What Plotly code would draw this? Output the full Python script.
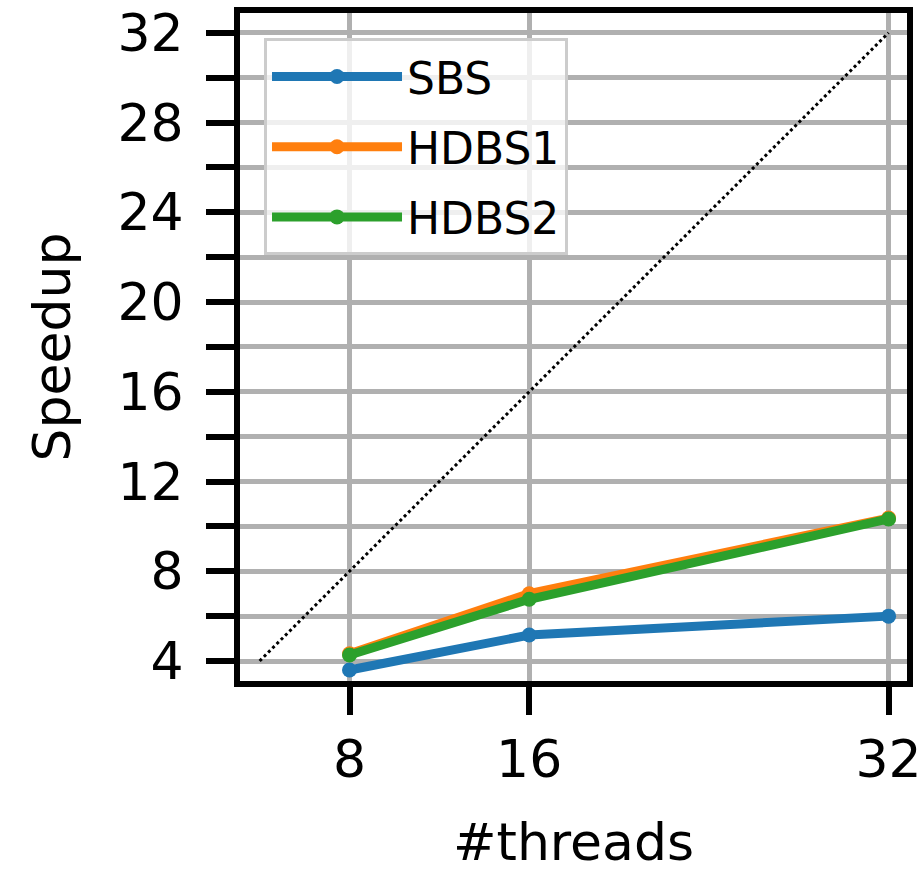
import plotly.graph_objects as go

threads = [8, 16, 32]
sbs = [3.6, 5.16, 6.0]
hdbs1 = [4.32, 7.0, 10.37]
hdbs2 = [4.27, 6.75, 10.33]
ideal_x = [4, 32]
ideal_y = [4, 32]
x_ticks = [8, 16, 32]
y_ticks = [4, 8, 12, 16, 20, 24, 28, 32]

FONT = "DejaVu Sans"
fig = go.Figure()
fig.add_trace(go.Scatter(x=ideal_x, y=ideal_y, mode="lines",
                         line=dict(color="black", width=3, dash="dot"),
                         showlegend=False, hoverinfo="skip"))
series = [("SBS", sbs, "#1f77b4"), ("HDBS1", hdbs1, "#ff7f0e"), ("HDBS2", hdbs2, "#2ca02c")]
for name, vals, col in series:
    fig.add_trace(go.Scatter(x=threads, y=vals, mode="lines+markers", name=name,
                             legendgroup=name,
                             line=dict(color=col, width=9),
                             marker=dict(color=col, size=15)))

axis_common = dict(showline=True, linecolor="black", linewidth=6, mirror=True,
                   ticks="outside", ticklen=28, tickwidth=6, tickcolor="black",
                   showgrid=True, gridcolor="#b0b0b0", gridwidth=5, zeroline=False,
                   automargin=False, ticklabeloverflow="allow",
                   tickfont=dict(family=FONT, size=52, color="black"))

fig.update_xaxes(range=[3.125, 32.82], tickvals=x_ticks, ticktext=[str(v) for v in x_ticks],
                 title=dict(text="#threads", font=dict(family=FONT, size=52, color="black"), standoff=42),
                 **axis_common)
fig.update_yaxes(range=[3.109, 32.88], tickvals=y_ticks, ticklabelstandoff=12,
                 minor=dict(dtick=2, tick0=0, ticklen=28, tickwidth=6, tickcolor="black",
                            ticks="outside", showgrid=True, gridcolor="#b0b0b0", gridwidth=5),
                 title=dict(text="Speedup", font=dict(family=FONT, size=52, color="black"), standoff=32),
                 **axis_common)

fig.update_layout(
    width=918, height=872,
    margin=dict(l=240, r=11, t=13, b=191),
    plot_bgcolor="white", paper_bgcolor="white",
    font=dict(family=FONT, color="black"),
    legend=dict(x=0.036, y=0.962, xanchor="left", yanchor="top",
                bgcolor="rgba(255,255,255,0.8)", bordercolor="#cccccc", borderwidth=3,
                font=dict(family=FONT, size=44, color="black"), itemwidth=130,
                tracegroupgap=10),
)
fig.write_html("out.html", config={"displayModeBar": False},
               post_script="document.body.style.margin='0';")
